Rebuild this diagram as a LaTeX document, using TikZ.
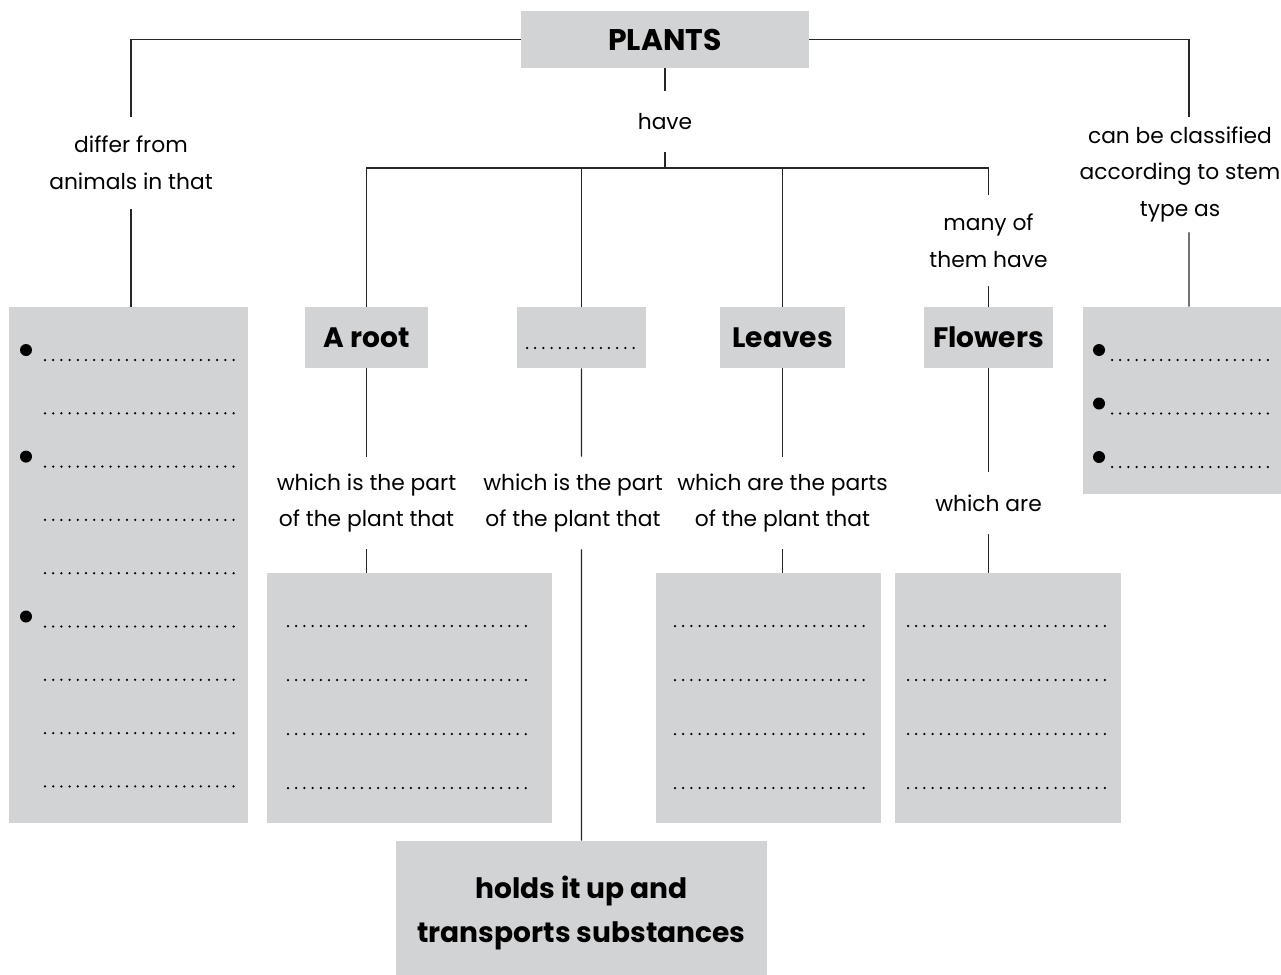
\documentclass[tikz,border=0pt]{standalone}
\usepackage{fontspec}
\setmainfont{Poppins}
\usetikzlibrary{positioning}
\definecolor{boxgray}{RGB}{210,211,213}
\tikzset{
  graybox/.style={fill=boxgray, inner sep=0pt, align=center, font=\bfseries\fontsize{16}{22}\selectfont},
  qtext/.style={inner sep=0pt, align=center, font=\fontsize{12.4}{21}\selectfont},
  link/.style={draw=black!85, line width=0.8pt},
  dotline/.style={line width=0.05cm, line cap=round, dash pattern=on 0pt off 0.164cm}
}

\begin{document}
\begin{tikzpicture}[x=0.02cm,y=-0.02cm]
    \useasboundingbox (0,0) rectangle (1281,974);

    % gray boxes
    \node[graybox, minimum width=5.76cm, minimum height=1.14cm, font=\bfseries\fontsize{17}{22}\selectfont] (plants) at (665,39.5) {PLANTS};
    \node[graybox, minimum width=4.78cm, minimum height=10.32cm] (diff) at (128.5,565) {};
    \node[graybox, minimum width=3.96cm, minimum height=3.74cm] (types) at (1182,400.5) {};
    \node[graybox, minimum width=2.46cm, minimum height=1.22cm] (root) at (366.5,337.5) {A root};
    \node[graybox, minimum width=2.58cm, minimum height=1.22cm] (stem) at (581.5,337.5) {};
    \node[graybox, minimum width=2.5cm, minimum height=1.22cm] (leaves) at (782.5,337.5) {Leaves};
    \node[graybox, minimum width=2.58cm, minimum height=1.22cm] (flowers) at (988.5,337.5) {Flowers};
    \node[graybox, minimum width=5.7cm, minimum height=5cm] (rootfn) at (409.5,698) {};
    \node[graybox, minimum width=4.5cm, minimum height=5cm] (leaffn) at (768.5,698) {};
    \node[graybox, minimum width=4.52cm, minimum height=5cm] (flowerfn) at (1008,698) {};
    \node[graybox, minimum width=7.42cm, minimum height=2.88cm, font=\bfseries\fontsize{16}{25.5}\selectfont] (stemfn) at (581.5,913) {holds it up and\\transports substances};

    % linking words
    \node[qtext, minimum height=1.84cm] (diffq) at (131,163) {differ from\\animals in that};
    \node[qtext, minimum height=1.22cm] (haveq) at (665,121.5) {have};
    \node[qtext, minimum height=2.3cm] (typesq) at (1180,174.5) {can be classified\\according to stem\\type as};
    \node[qtext, minimum height=1.82cm] (manyq) at (988.5,240.5) {many of\\them have};
    \node[qtext, minimum height=1.84cm] (rootq) at (366.5,503) {which is the part\\of the plant that};
    \node[qtext, minimum height=1.84cm] (stemq) at (573,503) {which is the part\\of the plant that};
    \node[qtext, minimum height=1.84cm] (leafq) at (782.5,503) {which are the parts\\of the plant that};
    \node[qtext, minimum height=1.24cm] (flowerq) at (988.5,503) {which are};

    \coordinate (hub) at (665,168);

    % connectors
    \draw[link] (plants.west) -| (diffq.north);
    \draw[link] (diffq.south) -- (diffq.south |- diff.north);
    \draw[link] (plants.east) -| ([xshift=0.18cm]typesq.north);
    \draw[link] ([xshift=0.18cm]typesq.south) -- ([xshift=0.14cm]types.north);
    \draw[link] (plants.south) -- (haveq.north);
    \draw[link] (haveq.south) -- (hub);
    \draw[link] (root.north) |- (hub) -| (manyq.north);
    \draw[link] (stem.north) -- (stem.north |- hub);
    \draw[link] (leaves.north) -- (leaves.north |- hub);
    \draw[link] (manyq.south) -- (flowers.north);
    \draw[link] (root.south) -- (rootq.north);
    \draw[link] (rootq.south) -- (rootq.south |- rootfn.north);
    \draw[link] (stem.south) -- ([xshift=0.17cm]stemq.north);
    \draw[link] ([xshift=0.17cm]stemq.south) -- (stemfn.north);
    \draw[link] (leaves.south) -- (leafq.north);
    \draw[link] (leafq.south) -- (leafq.south |- leaffn.north);
    \draw[link] (flowers.south) -- (flowerq.north);
    \draw[link] (flowerq.south) -- (flowerq.south |- flowerfn.north);

    % dotted answer lines
    \foreach \i in {0,...,8}
        \draw[dotline] (45,{360+53.3*\i}) -- (234,{360+53.3*\i});
    \foreach \i in {0,2,5}
        \fill (26,{350+53.3*\i}) circle (0.12cm);
    \foreach \i in {0,1,2} {
        \draw[dotline] (1112,{360+53.5*\i}) -- (1272,{360+53.5*\i});
        \fill (1099,{350+53.5*\i}) circle (0.12cm);
    }
    \draw[dotline] (527,348) -- (634,348);
    \foreach \y in {626,680,734,788} {
        \draw[dotline] (288,\y) -- (533,\y);
        \draw[dotline] (675,\y) -- (868,\y);
        \draw[dotline] (908,\y) -- (1106,\y);
    }
\end{tikzpicture}
\end{document}
